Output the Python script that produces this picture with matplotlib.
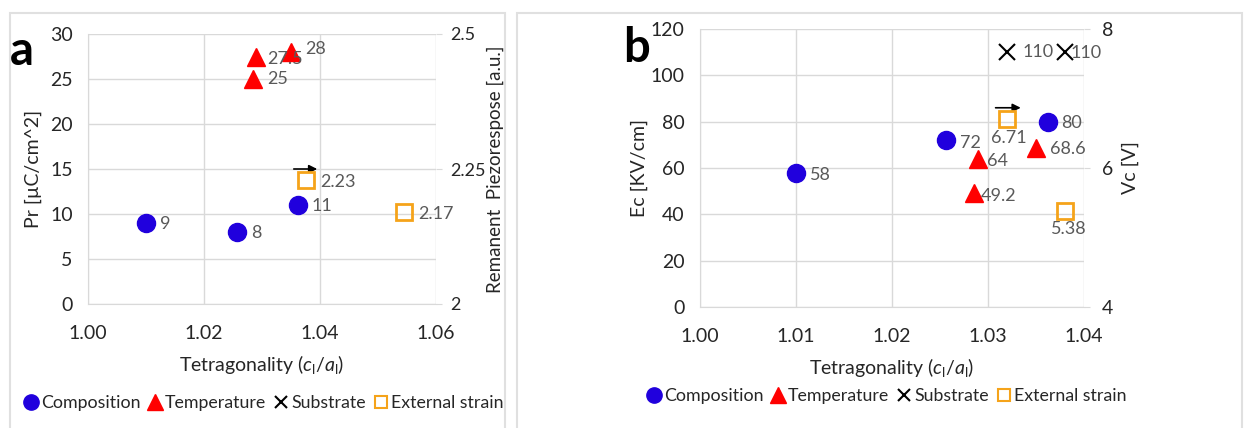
"""
Two-panel scatter: Pr / piezoresponse and Ec / Vc against tetragonality.
"""

import matplotlib
matplotlib.use("Agg")
import matplotlib.pyplot as plt
from matplotlib.lines import Line2D
from matplotlib.patches import Rectangle

plt.rcParams['font.family'] = ['Lato', 'DejaVu Sans']
plt.rcParams['mathtext.fontset'] = 'custom'
plt.rcParams['mathtext.rm'] = 'Lato'
plt.rcParams['mathtext.it'] = 'Lato:italic'

# ---- panel a data ----
a_comp_x = [1.010, 1.0257, 1.0362]
a_comp_y = [9, 8, 11]
a_temp_x = [1.0285, 1.029, 1.035]
a_temp_y = [25, 27.5, 28]
a_strain_x = [1.0376, 1.0545]
a_strain_y = [2.23, 2.17]          # right axis, remanent piezoresponse
a_arrow_x = [1.035, 1.040]
a_arrow_y = [15, 15]

# ---- panel b data ----
b_comp_x = [1.010, 1.0256, 1.0362]
b_comp_y = [58, 72, 80]
b_temp_x = [1.029, 1.0285, 1.035]
b_temp_y = [64, 49.2, 68.6]
b_sub_x = [1.032, 1.038]
b_sub_y = [110, 110]
b_strain_x = [1.032, 1.038]
b_strain_y = [6.71, 5.38]          # right axis, Vc
b_arrow_x = [1.0305, 1.0337]
b_arrow_y = [86, 86]

BLUE = '#2000DD'
RED = '#FF0000'
ORANGE = '#F5A31A'
GRID = '#D9D9D9'
LABEL = '#595959'
TEXT = '#262626'


def style_axes(ax, ax2):
    for a in (ax, ax2):
        for s in a.spines.values():
            s.set_visible(False)
    ax.grid(True, color=GRID, linewidth=1)
    ax.set_axisbelow(True)
    ax.tick_params(axis='x', length=0, labelsize=14, labelcolor=TEXT, pad=15)
    ax.tick_params(axis='y', length=0, labelsize=14, labelcolor=TEXT, pad=11)
    ax2.tick_params(axis='y', length=4, color=GRID, labelsize=13, labelcolor=TEXT, pad=6)
    ax.spines['left'].set_visible(True)
    ax.spines['left'].set_color(GRID)
    ax.spines['bottom'].set_visible(True)
    ax.spines['bottom'].set_color(GRID)


def label(ax, x, y, text, dx, dy, ha='left'):
    ax.annotate(text, (x, y), xytext=(dx, dy), textcoords='offset pixels',
                ha=ha, va='center', fontsize=13, color=LABEL)


def add_legend(fig, xc, yc):
    handles = [
        Line2D([], [], marker='o', linestyle='none', color=BLUE, markersize=11),
        Line2D([], [], marker='^', linestyle='none', color=RED, markersize=11),
        Line2D([], [], marker='x', linestyle='none', color='black', markersize=9, markeredgewidth=1.5),
        Line2D([], [], marker='s', linestyle='none', markerfacecolor='none',
               markeredgecolor=ORANGE, markersize=9, markeredgewidth=1.5),
    ]
    names = ['Composition', 'Temperature', 'Substrate', 'External strain']
    fig.legend(handles, names, loc='center', bbox_to_anchor=(xc, yc), ncol=4,
               frameon=False, fontsize=12.8, handlelength=0.7, handletextpad=0.2,
               columnspacing=0.5, labelcolor=TEXT, borderpad=0)


fig = plt.figure(figsize=(12.48, 4.28), dpi=100)

# panel frames
fig.patches.append(Rectangle((10 / 1248, -0.1), 495 / 1248, 1.1 - 13 / 428,
                             transform=fig.transFigure, fill=False, edgecolor='#E0E0E0', linewidth=1.5))
fig.patches.append(Rectangle((517 / 1248, -0.1), 725 / 1248, 1.1 - 13 / 428,
                             transform=fig.transFigure, fill=False, edgecolor='#E0E0E0', linewidth=1.5))

# ---------------- panel a ----------------
ax = fig.add_axes([88 / 1248, 1 - 304 / 428, 348 / 1248, 270 / 428])
ax2 = ax.twinx()
ax.set_xlim(1.00, 1.06)
ax.set_ylim(0, 30)
ax.set_xticks([1.00, 1.02, 1.04, 1.06])
ax.set_xticklabels(['1.00', '1.02', '1.04', '1.06'])
ax.set_yticks(range(0, 31, 5))
ax2.set_ylim(2, 2.5)
ax2.set_yticks([2, 2.25, 2.5])
ax2.set_yticklabels(['2', '2.25', '2.5'])
style_axes(ax, ax2)

ax.plot(a_comp_x, a_comp_y, 'o', color=BLUE, markersize=13, zorder=3)
ax.plot(a_temp_x, a_temp_y, '^', color=RED, markersize=13, zorder=3)
ax2.plot(a_strain_x, a_strain_y, 's', markerfacecolor='none', markeredgecolor=ORANGE,
         markersize=12, markeredgewidth=2, zorder=3)
ax.annotate('', xy=(a_arrow_x[1], a_arrow_y[1]), xytext=(a_arrow_x[0], a_arrow_y[0]),
            arrowprops=dict(arrowstyle='-|>', color='black', lw=1.2, mutation_scale=12))

for x, y in zip(a_comp_x, a_comp_y):
    label(ax, x, y, f'{y}', 14, -1)
a_temp_off = [(14, 0), (11, -3), (14, 3)]
for (x, y), (dx, dy) in zip(zip(a_temp_x, a_temp_y), a_temp_off):
    label(ax, x, y, f'{y:g}', dx, dy)
for x, y in zip(a_strain_x, a_strain_y):
    label(ax2, x, y, f'{y:.2f}', 14, -2)

ax.set_xlabel(r'Tetragonality ($c_{\mathrm{l}}/a_{\mathrm{l}}$)', fontsize=14, color=TEXT, labelpad=8)
ax.set_ylabel('Pr [µC/cm^2]', fontsize=14, color=TEXT, labelpad=6)
ax2.set_ylabel('Remanent  Piezorespose [a.u.]', fontsize=13.5, color=TEXT, labelpad=1)
fig.text(22 / 1248, 1 - 51 / 428, 'a', fontsize=34, fontweight='bold', ha='center', va='center')
add_legend(fig, 264 / 1248, 1 - 403 / 428)

# ---------------- panel b ----------------
bx = fig.add_axes([700 / 1248, 1 - 307 / 428, 384 / 1248, 278 / 428])
bx2 = bx.twinx()
bx.set_xlim(1.00, 1.04)
bx.set_ylim(0, 120)
bx.set_xticks([1.00, 1.01, 1.02, 1.03, 1.04])
bx.set_xticklabels(['1.00', '1.01', '1.02', '1.03', '1.04'])
bx.set_yticks(range(0, 121, 20))
bx2.set_ylim(4, 8)
bx2.set_yticks([4, 6, 8])
style_axes(bx, bx2)
bx2.tick_params(axis='y', labelsize=14, pad=9)

bx.plot(b_comp_x, b_comp_y, 'o', color=BLUE, markersize=13, zorder=3)
bx.plot(b_temp_x, b_temp_y, '^', color=RED, markersize=13, zorder=3)
bx.plot(b_sub_x, b_sub_y, 'x', color='black', markersize=11, markeredgewidth=1.5, zorder=3)
bx2.plot(b_strain_x, b_strain_y, 's', markerfacecolor='none', markeredgecolor=ORANGE,
         markersize=12, markeredgewidth=2, zorder=3)
bx.annotate('', xy=(b_arrow_x[1], b_arrow_y[1]), xytext=(b_arrow_x[0], b_arrow_y[0]),
            arrowprops=dict(arrowstyle='-|>', color='black', lw=1.2, mutation_scale=12))

b_comp_off = [(14, -2), (14, -3), (14, -1)]
for (x, y), (dx, dy) in zip(zip(b_comp_x, b_comp_y), b_comp_off):
    label(bx, x, y, f'{y}', dx, dy)
b_temp_off = [(9, -2), (7, -3), (14, -1)]
for (x, y), (dx, dy) in zip(zip(b_temp_x, b_temp_y), b_temp_off):
    label(bx, x, y, f'{y:g}', dx, dy)
b_sub_off = [(15, 0), (6, -1)]
for (x, y), (dx, dy) in zip(zip(b_sub_x, b_sub_y), b_sub_off):
    label(bx, x, y, f'{y}', dx, dy)
b_strain_off = [(2, -19), (4, -18)]
for (x, y), (dx, dy) in zip(zip(b_strain_x, b_strain_y), b_strain_off):
    label(bx2, x, y, f'{y:.2f}', dx, dy, ha='center')

bx.set_xlabel(r'Tetragonality ($c_{\mathrm{l}}/a_{\mathrm{l}}$)', fontsize=14, color=TEXT, labelpad=8)
bx.set_ylabel('Ec [KV/cm]', fontsize=14, color=TEXT, labelpad=2)
bx2.set_ylabel('Vc [V]', fontsize=14, color=TEXT, labelpad=6)
fig.text(637 / 1248, 1 - 48 / 428, 'b', fontsize=34, fontweight='bold', ha='center', va='center')
add_legend(fig, 887 / 1248, 1 - 396 / 428)

fig.savefig('out.png', dpi=100)
